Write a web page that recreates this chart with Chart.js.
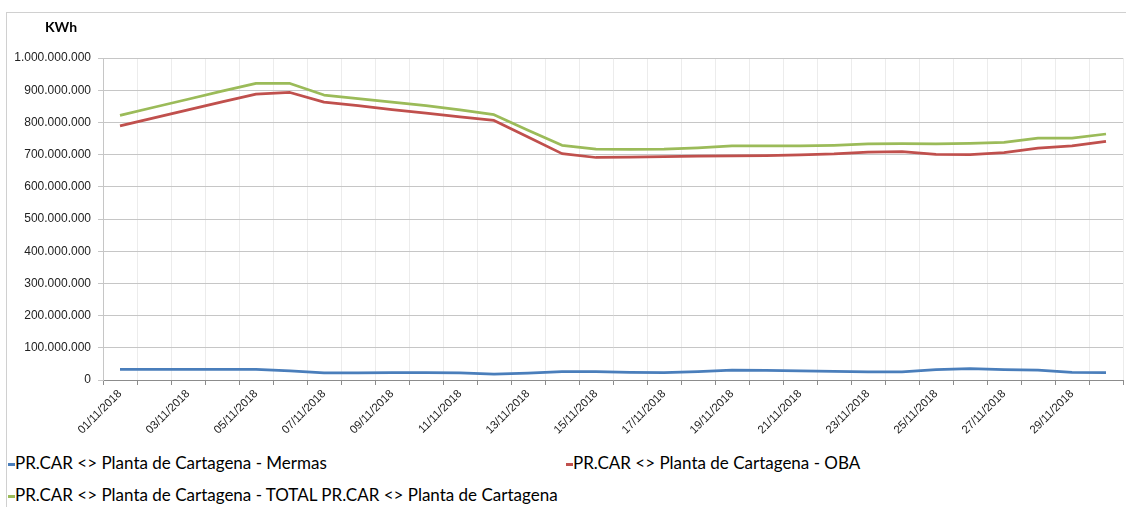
<!DOCTYPE html>
<html>
<head>
<meta charset="utf-8">
<script src="https://cdn.jsdelivr.net/npm/chart.js@4/dist/chart.umd.min.js"></script>
<style>
  html, body { margin: 0; padding: 0; background: #fff; }
  #wrap { position: relative; width: 1126px; height: 507px; overflow: hidden; background: #fff; }
  #frame { position: absolute; left: 6px; top: 12px; width: 1200px; height: 600px;
           border-top: 1px solid #d0d0d0; border-left: 1px solid #d0d0d0; }
  #chart { position: absolute; left: 0; top: 0; }
  #unit { position: absolute; left: 45px; top: 18px; font: bold 14px Lato, "Noto Sans", sans-serif; color: #000; }
  .leg { position: absolute; font: 17px Lato, "Noto Sans", sans-serif; color: #000; white-space: nowrap; }
  .leg i { display: inline-block; width: 7px; height: 3px; vertical-align: middle; }
</style>
</head>
<body>
<div id="wrap">
  <div id="frame"></div>
  <canvas id="chart" width="1126" height="440"></canvas>
  <div id="unit">KWh</div>
  <div id="legend"></div>
</div>
<script>
const $ = (id) => document.getElementById(id);

// Datos (millones de kWh)
const dates = [
  '01/11/2018','02/11/2018','03/11/2018','04/11/2018','05/11/2018','06/11/2018','07/11/2018','08/11/2018',
  '09/11/2018','10/11/2018','11/11/2018','12/11/2018','13/11/2018','14/11/2018','15/11/2018','16/11/2018',
  '17/11/2018','18/11/2018','19/11/2018','20/11/2018','21/11/2018','22/11/2018','23/11/2018','24/11/2018',
  '25/11/2018','26/11/2018','27/11/2018','28/11/2018','29/11/2018','30/11/2018',
];
const mermas = [33, 33, 33, 33, 33, 28, 22, 22, 23, 23, 22, 18, 21, 26, 26, 24, 23, 26, 31, 30, 28, 27, 25, 25, 32, 35, 32, 31, 24, 23];
const oba = [789, 814, 839, 864, 888, 893, 863, 852, 840, 829, 817, 806, 755, 703, 691, 692, 694, 695, 696, 697, 699, 702, 708, 709, 701, 700, 706, 720, 727, 741];
const total = [822, 847, 872, 897, 921, 921, 885, 874, 863, 852, 839, 824, 776, 729, 717, 716, 717, 721, 727, 727, 727, 729, 733, 734, 733, 735, 738, 751, 751, 764];
const yTicks = [0, 100, 200, 300, 400, 500, 600, 700, 800, 900, 1000];

const seriesNames = [
  'PR.CAR <> Planta de Cartagena - Mermas',
  'PR.CAR <> Planta de Cartagena - OBA',
  'PR.CAR <> Planta de Cartagena - TOTAL PR.CAR <> Planta de Cartagena',
];
const seriesColors = ['#4a7ebb', '#c0504d', '#9bbb59'];
const seriesData = [mermas, oba, total];

const fmt = (v) => String(Math.round(v)).replace(/\B(?=(\d{3})+(?!\d))/g, '.');
const M = 1e6;

const chart = new Chart($('chart'), {
  type: 'line',
  data: {
    labels: dates,
    datasets: seriesData.map((d, i) => ({
      label: seriesNames[i],
      data: d.map(v => v * M),
      borderColor: seriesColors[i],
      backgroundColor: seriesColors[i],
      borderWidth: 2.75,
      pointRadius: 0,
      tension: 0,
      borderJoinStyle: 'round',
    })),
  },
  options: {
    responsive: false,
    animation: false,
    devicePixelRatio: 1,
    layout: { padding: { top: 58, left: 0, right: 3, bottom: 0 } },
    plugins: { legend: { display: false }, tooltip: { enabled: false } },
    scales: {
      x: {
        offset: true,
        grid: { offset: true, color: '#ececec', tickColor: '#8c8c8c', tickLength: 5, lineWidth: 1 },
        border: { color: '#8c8c8c' },
        ticks: {
          autoSkip: false, maxRotation: 45, minRotation: 45, padding: 2,
          color: '#222', font: { family: '"Liberation Sans", Arial', size: 11.5 },
          callback: (v, i) => (i % 2 === 0 ? dates[i] : ''),
        },
        afterFit: (s) => { s.height = 440 - 380; },
      },
      y: {
        min: 0, max: yTicks[yTicks.length - 1] * M,
        afterBuildTicks: (s) => { s.ticks = yTicks.map(v => ({ value: v * M })); },
        grid: { color: '#c6c6c6', tickColor: '#c6c6c6', tickLength: 5 },
        border: { color: '#c6c6c6' },
        ticks: {
          padding: 7, color: '#222', font: { family: '"Liberation Sans", Arial', size: 12 },
          callback: (v) => fmt(v),
        },
        afterFit: (s) => { s.width = 103; },
      },
    },
  },
});

// Leyenda
const legPos = [[8, 452], [566, 452], [8, 484]];
$('legend').innerHTML = seriesNames.map((n, i) =>
  `<div class="leg" style="left:${legPos[i][0]}px;top:${legPos[i][1]}px"><i style="background:${seriesColors[i]}"></i>${n.replace(/</g, '&lt;').replace(/>/g, '&gt;')}</div>`
).join('');
</script>
</body>
</html>
